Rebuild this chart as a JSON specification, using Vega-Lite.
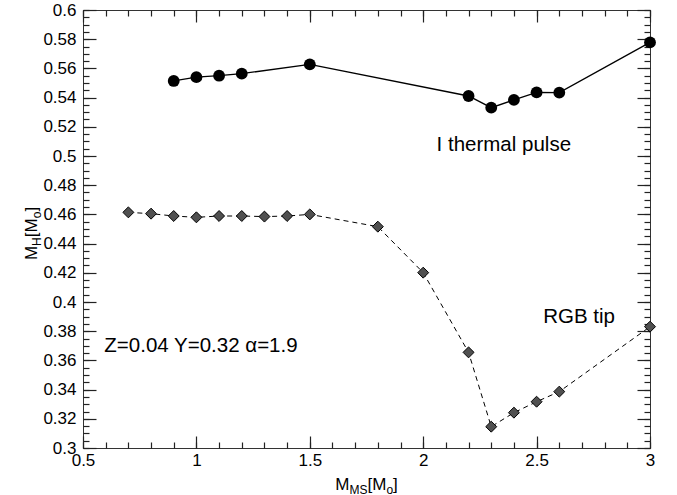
{
  "$schema": "https://vega.github.io/schema/vega-lite/v6.json",
  "width": 567,
  "height": 438,
  "autosize": {"type": "none"},
  "padding": {"left": 83, "top": 10, "right": 27, "bottom": 47},
  "background": "white",
  "config": {
    "view": {"stroke": "#333", "strokeWidth": 1},
    "font": "Liberation Sans",
    "axis": {
      "grid": false,
      "domain": false,
      "labelFont": "Liberation Sans",
      "titleFont": "Liberation Sans",
      "labelColor": "black",
      "titleColor": "black",
      "tickColor": "#222",
      "tickWidth": 1.2,
      "labelFontSize": 17,
      "titleFontWeight": "normal",
      "labelFlush": false,
      "labelOverlap": false,
      "titleAlign": "left",
      "titleBaseline": "alphabetic"
    }
  },
  "datasets": {
    "tp": [
      {"m": 0.9, "mh": 0.5514}, {"m": 1.0, "mh": 0.554}, {"m": 1.1, "mh": 0.555}, {"m": 1.2, "mh": 0.5564},
      {"m": 1.5, "mh": 0.5628}, {"m": 2.2, "mh": 0.5411}, {"m": 2.3, "mh": 0.5331}, {"m": 2.4, "mh": 0.5384},
      {"m": 2.5, "mh": 0.5436}, {"m": 2.6, "mh": 0.5434}, {"m": 3.0, "mh": 0.5778}
    ],
    "rgb": [
      {"m": 0.7, "mh": 0.4614}, {"m": 0.8, "mh": 0.4605}, {"m": 0.9, "mh": 0.4589}, {"m": 1.0, "mh": 0.458},
      {"m": 1.1, "mh": 0.4589}, {"m": 1.2, "mh": 0.4589}, {"m": 1.3, "mh": 0.4585}, {"m": 1.4, "mh": 0.4589},
      {"m": 1.5, "mh": 0.46}, {"m": 1.8, "mh": 0.4516}, {"m": 2.0, "mh": 0.4201}, {"m": 2.2, "mh": 0.3655},
      {"m": 2.3, "mh": 0.3146}, {"m": 2.4, "mh": 0.3242}, {"m": 2.5, "mh": 0.3317}, {"m": 2.6, "mh": 0.3386},
      {"m": 3.0, "mh": 0.3831}
    ],
    "notes": [
      {"m": 2.059, "mh": 0.5075, "label": "I thermal pulse"},
      {"m": 2.529, "mh": 0.39, "label": "RGB tip"},
      {"m": 0.594, "mh": 0.37, "label": "Z=0.04 Y=0.32 α=1.9"}
    ]
  },
  "resolve": {"axis": {"x": "independent", "y": "independent"}},
  "layer": [
    {
      "data": {"name": "tp"},
      "mark": {"type": "line", "color": "black", "strokeWidth": 1.3},
      "encoding": {
        "x": {"field": "m", "type": "quantitative", "scale": {"domain": [0.5, 3], "nice": false, "zero": false},
          "axis": {"orient": "bottom", "values": [0.5, 1, 1.5, 2, 2.5, 3], "format": "~g", "offset": -12, "tickSize": 12, "labelPadding": 4,
            "title": "M", "titleFontSize": 17, "titleX": 251.8, "titleY": 53}},
        "y": {"field": "mh", "type": "quantitative", "scale": {"domain": [0.3, 0.6], "nice": false, "zero": false},
          "axis": {"orient": "left", "values": [0.3,0.32,0.34,0.36,0.38,0.4,0.42,0.44,0.46,0.48,0.5,0.52,0.54,0.56,0.58,0.6], "format": "~g", "offset": -13, "tickSize": 13, "labelPadding": 7,
            "title": "M", "titleFontSize": 17, "titleAngle": -90, "titleX": -60, "titleY": 249.6}}
      }
    },
    {
      "data": {"name": "tp"},
      "mark": {"type": "point", "shape": "circle", "filled": true, "size": 140, "color": "black", "opacity": 1},
      "encoding": {
        "x": {"field": "m", "type": "quantitative", "scale": {"domain": [0.5, 3], "nice": false, "zero": false},
          "axis": {"orient": "bottom", "values": [0.5,0.6,0.7,0.8,0.9,1,1.1,1.2,1.3,1.4,1.5,1.6,1.7,1.8,1.9,2,2.1,2.2,2.3,2.4,2.5,2.6,2.7,2.8,2.9,3], "labelOpacity": 0, "offset": -6, "tickSize": 6,
            "title": "MS", "titleFontSize": 12, "titleX": 266, "titleY": 51}},
        "y": {"field": "mh", "type": "quantitative", "scale": {"domain": [0.3, 0.6], "nice": false, "zero": false},
          "axis": {"orient": "left", "values": [0.3,0.305,0.31,0.315,0.32,0.325,0.33,0.335,0.34,0.345,0.35,0.355,0.36,0.365,0.37,0.375,0.38,0.385,0.39,0.395,0.4,0.405,0.41,0.415,0.42,0.425,0.43,0.435,0.44,0.445,0.45,0.455,0.46,0.465,0.47,0.475,0.48,0.485,0.49,0.495,0.5,0.505,0.51,0.515,0.52,0.525,0.53,0.535,0.54,0.545,0.55,0.555,0.56,0.565,0.57,0.575,0.58,0.585,0.59,0.595,0.6], "labelOpacity": 0, "offset": -6, "tickSize": 6,
            "title": "H", "titleFontSize": 12, "titleAngle": -90, "titleX": -49, "titleY": 235.4}}
      }
    },
    {
      "data": {"name": "rgb"},
      "mark": {"type": "line", "color": "black", "strokeWidth": 1, "strokeDash": [5, 4]},
      "encoding": {
        "x": {"field": "m", "type": "quantitative", "scale": {"domain": [0.5, 3], "nice": false, "zero": false},
          "axis": {"orient": "top", "values": [0.5, 1, 1.5, 2, 2.5, 3], "labelOpacity": 0, "offset": -12, "tickSize": 12,
            "title": "[M", "titleFontSize": 17, "titleX": 284, "titleY": 467}},
        "y": {"field": "mh", "type": "quantitative", "scale": {"domain": [0.3, 0.6], "nice": false, "zero": false},
          "axis": {"orient": "right", "values": [0.3,0.32,0.34,0.36,0.38,0.4,0.42,0.44,0.46,0.48,0.5,0.52,0.54,0.56,0.58,0.6], "labelOpacity": 0, "offset": -13, "tickSize": 13,
            "title": "[M", "titleFontSize": 17, "titleAngle": -90, "titleX": -601, "titleY": 226.7}}
      }
    },
    {
      "data": {"name": "rgb"},
      "mark": {"type": "point", "shape": "diamond", "filled": true, "size": 120, "fill": "#505050", "stroke": "#000", "strokeWidth": 1, "opacity": 1},
      "encoding": {
        "x": {"field": "m", "type": "quantitative", "scale": {"domain": [0.5, 3], "nice": false, "zero": false},
          "axis": {"orient": "top", "values": [0.5,0.6,0.7,0.8,0.9,1,1.1,1.2,1.3,1.4,1.5,1.6,1.7,1.8,1.9,2,2.1,2.2,2.3,2.4,2.5,2.6,2.7,2.8,2.9,3], "labelOpacity": 0, "offset": -6, "tickSize": 6,
            "title": "o", "titleFontSize": 12, "titleX": 302.9, "titleY": 477}},
        "y": {"field": "mh", "type": "quantitative", "scale": {"domain": [0.3, 0.6], "nice": false, "zero": false},
          "axis": {"orient": "right", "values": [0.3,0.305,0.31,0.315,0.32,0.325,0.33,0.335,0.34,0.345,0.35,0.355,0.36,0.365,0.37,0.375,0.38,0.385,0.39,0.395,0.4,0.405,0.41,0.415,0.42,0.425,0.43,0.435,0.44,0.445,0.45,0.455,0.46,0.465,0.47,0.475,0.48,0.485,0.49,0.495,0.5,0.505,0.51,0.515,0.52,0.525,0.53,0.535,0.54,0.545,0.55,0.555,0.56,0.565,0.57,0.575,0.58,0.585,0.59,0.595,0.6], "labelOpacity": 0, "offset": -6, "tickSize": 6,
            "title": "o", "titleFontSize": 12, "titleAngle": -90, "titleX": -604, "titleY": 207.8}}
      }
    },
    {
      "data": {"name": "notes"},
      "mark": {"type": "text", "align": "left", "baseline": "middle", "fontSize": 20.5, "color": "black", "font": "Liberation Sans"},
      "encoding": {
        "x": {"field": "m", "type": "quantitative", "scale": {"domain": [0.5, 3], "nice": false, "zero": false},
          "axis": {"orient": "bottom", "values": [],
            "title": "]", "titleFontSize": 17, "titleX": 309.6, "titleY": 41}},
        "y": {"field": "mh", "type": "quantitative", "scale": {"domain": [0.3, 0.6], "nice": false, "zero": false},
          "axis": {"orient": "left", "values": [],
            "title": "]", "titleFontSize": 17, "titleAngle": -90, "titleX": -47, "titleY": 201.1}},
        "text": {"field": "label"}
      }
    }
  ]
}
